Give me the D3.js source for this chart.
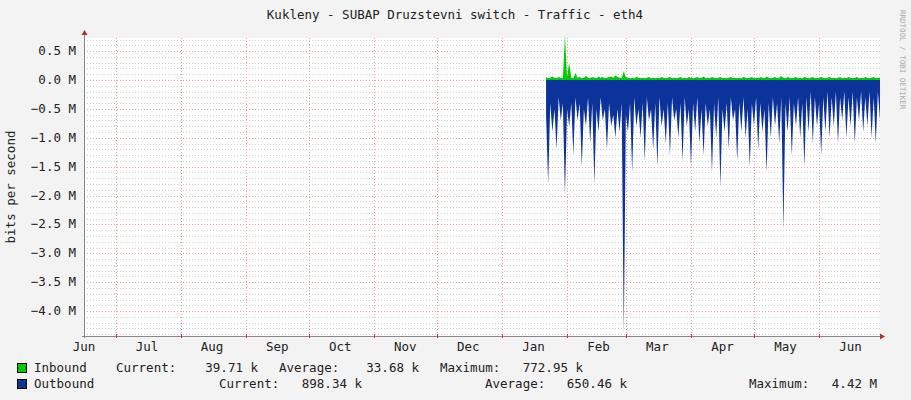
<!DOCTYPE html>
<html><head><meta charset="utf-8">
<script src="https://cdn.jsdelivr.net/npm/d3@7"></script>
<style>body{margin:0;background:#f3f3f3}text{font-family:"DejaVu Sans Mono",monospace}</style>
</head><body><div id="chart"></div>
<script>
// values in M bits/s, one value per day starting 2017-01-22
var dataStart = new Date(2017, 0, 22);
var outbound = [
-0.6,-1.8,-0.4,-0.9,-0.5,-1.2,-0.3,-0.7,-0.4,-2.0,-0.5,-0.8,-0.4,-1.3,-0.3,-0.7,-0.4,-1.5,-0.5,-0.8,
-0.3,-1.1,-0.4,-1.8,-0.5,-0.9,-0.3,-0.7,-0.5,-1.2,-0.4,-0.8,-0.6,-1.0,-0.5,-0.9,-0.4,-4.42,-0.6,-0.9,
-0.4,-1.6,-0.3,-0.8,-0.5,-1.0,-0.4,-1.4,-0.3,-0.7,-0.5,-1.2,-0.4,-1.5,-0.3,-0.8,-0.5,-1.1,-0.4,-1.3,
-0.3,-0.7,-0.5,-1.0,-0.4,-1.4,-0.3,-0.8,-0.5,-1.5,-0.4,-0.9,-0.3,-1.1,-0.5,-1.3,-0.4,-0.8,-0.5,-1.6,
-0.4,-1.0,-0.3,-1.85,-0.5,-0.9,-0.4,-1.2,-0.3,-0.7,-0.5,-1.4,-0.4,-0.9,-0.3,-1.0,-0.5,-1.5,-0.4,-0.8,
-0.3,-1.2,-0.4,-0.9,-0.5,-1.6,-0.4,-1.0,-0.3,-0.8,-0.4,-1.1,-0.3,-2.6,-0.4,-0.9,-0.3,-1.3,-0.4,-0.8,
-0.3,-1.0,-0.4,-1.5,-0.3,-0.9,-0.2,-1.1,-0.3,-0.8,-0.4,-1.3,-0.3,-0.9,-0.2,-1.0,-0.3,-0.8,-0.2,-1.1,
-0.3,-0.7,-0.2,-1.0,-0.3,-0.8,-0.2,-1.1,-0.3,-0.7,-0.2,-0.9,-0.3,-0.8,-0.2,-1.0,-0.3,-1.1,-0.2,-0.7
];
var inbound = [
0.05,0.03,0.04,0.06,0.04,0.03,0.05,0.04,0.03,0.77,0.05,0.3,0.04,0.03,0.12,0.04,0.05,0.03,0.04,0.07,
0.04,0.03,0.05,0.04,0.03,0.06,0.04,0.05,0.03,0.04,0.05,0.06,0.04,0.08,0.05,0.04,0.03,0.15,0.05,0.04,
0.03,0.04,0.03,0.05,0.04,0.03,0.04,0.03,0.04,0.05,0.03,0.04,0.03,0.04,0.03,0.05,0.04,0.03,0.04,0.05,
0.03,0.04,0.03,0.04,0.05,0.03,0.04,0.03,0.05,0.04,0.03,0.04,0.05,0.03,0.04,0.06,0.03,0.04,0.03,0.05,
0.04,0.03,0.04,0.05,0.03,0.04,0.03,0.04,0.05,0.03,0.04,0.03,0.04,0.03,0.05,0.04,0.03,0.04,0.05,0.03,
0.04,0.03,0.05,0.04,0.03,0.06,0.04,0.03,0.04,0.05,0.03,0.04,0.07,0.04,0.03,0.05,0.04,0.03,0.04,0.05,
0.03,0.04,0.03,0.05,0.04,0.03,0.04,0.05,0.03,0.04,0.03,0.05,0.04,0.03,0.04,0.05,0.03,0.04,0.03,0.04,
0.05,0.03,0.04,0.03,0.05,0.04,0.03,0.04,0.05,0.03,0.04,0.03,0.05,0.04,0.03,0.04,0.05,0.03,0.04,0.04
];
var yTicks = [0.5,0,-0.5,-1,-1.5,-2,-2.5,-3,-3.5,-4];
var monthNames = ["Jun","Jul","Aug","Sep","Oct","Nov","Dec","Jan","Feb","Mar","Apr","May","Jun"];
var legendRows = [
  {name:"Inbound", color:"#00cc00", items:[["Current:",116,"39.71 k",258],["Average:",279,"33.68 k",419],["Maximum:",440,"772.95 k",583]]},
  {name:"Outbound", color:"#0b3399", items:[["Current:",219,"898.34 k",362],["Average:",485,"650.46 k",627],["Maximum:",749,"4.42 M",877]]}
];

var W = 911, H = 400, L = 84, R = 880, T = 38, B = 336;
var svg = d3.select("#chart").append("svg").attr("width", W).attr("height", H);
svg.append("rect").attr("width", W).attr("height", H).attr("fill", "#f3f3f3");
svg.append("rect").attr("x", L).attr("y", T).attr("width", R - L).attr("height", B - T).attr("fill", "#fff");

var x = d3.scaleTime().domain([new Date(2016, 5, 16), new Date(2017, 5, 30)]).range([L, R]);
var y = d3.scaleLinear().domain([-4.43, 0.727]).range([B, T]);

// minor horizontal grid
svg.append("g").selectAll("line").data(d3.range(-44, 8).map(function(i){return i/10;}))
  .join("line").attr("x1", L).attr("x2", R).attr("y1", function(d){return Math.round(y(d))+0.5;}).attr("y2", function(d){return Math.round(y(d))+0.5;})
  .attr("stroke", "#cfcfcf").attr("stroke-dasharray", "1,2");
// major grid
svg.append("g").selectAll("line").data(yTicks).join("line")
  .attr("x1", L).attr("x2", R).attr("y1", function(d){return Math.round(y(d))+0.5;}).attr("y2", function(d){return Math.round(y(d))+0.5;})
  .attr("stroke", "#f2a0a0").attr("stroke-dasharray", "1,2");
var months = d3.timeMonth.range(new Date(2016, 6, 1), new Date(2017, 5, 2));
svg.append("g").selectAll("line").data(months).join("line")
  .attr("x1", function(d){return Math.round(x(d))+0.5;}).attr("x2", function(d){return Math.round(x(d))+0.5;})
  .attr("y1", T).attr("y2", B).attr("stroke", "#f2a0a0").attr("stroke-dasharray", "1,2");

var day = function(i){ return d3.timeDay.offset(dataStart, i); };
var pos = function(d, i){ return x(day(i)); };
svg.append("path").datum(outbound)
  .attr("d", d3.area().x(pos).y0(y(0)).y1(function(d){return y(d);}))
  .attr("fill", "#0b3399");
svg.append("path").datum(inbound)
  .attr("d", d3.area().x(pos).y0(y(0)).y1(function(d){return y(d);}))
  .attr("fill", "#00cc00");

// y labels
svg.append("g").selectAll("text").data(yTicks).join("text")
  .attr("x", 76).attr("y", function(d){return y(d)+4;}).attr("text-anchor", "end")
  .attr("font-size", 12.5).attr("fill", "#222")
  .text(function(d){ return d3.format(".1f")(d) + " M"; });
// x labels mid-month
var labelDates = d3.timeMonth.range(new Date(2016, 5, 1), new Date(2017, 5, 2));
svg.append("g").selectAll("text").data(labelDates).join("text")
  .attr("x", function(d){ return x(d3.timeDay.offset(d, 15)); }).attr("y", 351).attr("text-anchor", "middle")
  .attr("font-size", 12.5).attr("fill", "#222")
  .text(function(d, i){ return monthNames[i]; });

// axes
svg.append("line").attr("x1", L - 2).attr("x2", R + 2).attr("y1", B + 0.5).attr("y2", B + 0.5).attr("stroke", "#888");
svg.append("line").attr("x1", L + 0.5).attr("x2", L + 0.5).attr("y1", T - 4).attr("y2", B + 2).attr("stroke", "#888");
svg.append("path").attr("d", "M" + (R + 5) + "," + (B + 0.5) + "l-5,-3v6z").attr("fill", "#a33");
svg.append("path").attr("d", "M" + (L + 0.5) + "," + (T - 8) + "l-3,5h6z").attr("fill", "#a33");
svg.append("g").selectAll("line").data(months).join("line")
  .attr("x1", function(d){return Math.round(x(d))+0.5;}).attr("x2", function(d){return Math.round(x(d))+0.5;})
  .attr("y1", B - 2).attr("y2", B + 2).attr("stroke", "#d33");

svg.append("text").attr("x", 455).attr("y", 19).attr("text-anchor", "middle").attr("font-size", 12.5).attr("fill", "#222")
  .text("Kukleny - SUBAP Druzstevni switch - Traffic - eth4");
svg.append("text").attr("transform", "translate(15,187) rotate(-90)").attr("text-anchor", "middle")
  .attr("font-size", 12.5).attr("fill", "#222").text("bits per second");
svg.append("text").attr("transform", "translate(900,10) rotate(90)").attr("font-size", 7.5)
  .attr("fill", "#aaa").text("RRDTOOL / TOBI OETIKER");

// legend
legendRows.forEach(function(r, i){
  var ly = 372 + i * 16;
  svg.append("rect").attr("x", 17.5).attr("y", ly - 8.5).attr("width", 9).attr("height", 9)
    .attr("fill", r.color).attr("stroke", "#000");
  svg.append("text").attr("x", 34).attr("y", ly).attr("font-size", 12.5).attr("fill", "#222").text(r.name);
  r.items.forEach(function(it){
    svg.append("text").attr("x", it[1]).attr("y", ly).attr("font-size", 12.5).attr("fill", "#222").text(it[0]);
    svg.append("text").attr("x", it[3]).attr("y", ly).attr("text-anchor", "end").attr("font-size", 12.5).attr("fill", "#222").text(it[2]);
  });
});
</script></body></html>
